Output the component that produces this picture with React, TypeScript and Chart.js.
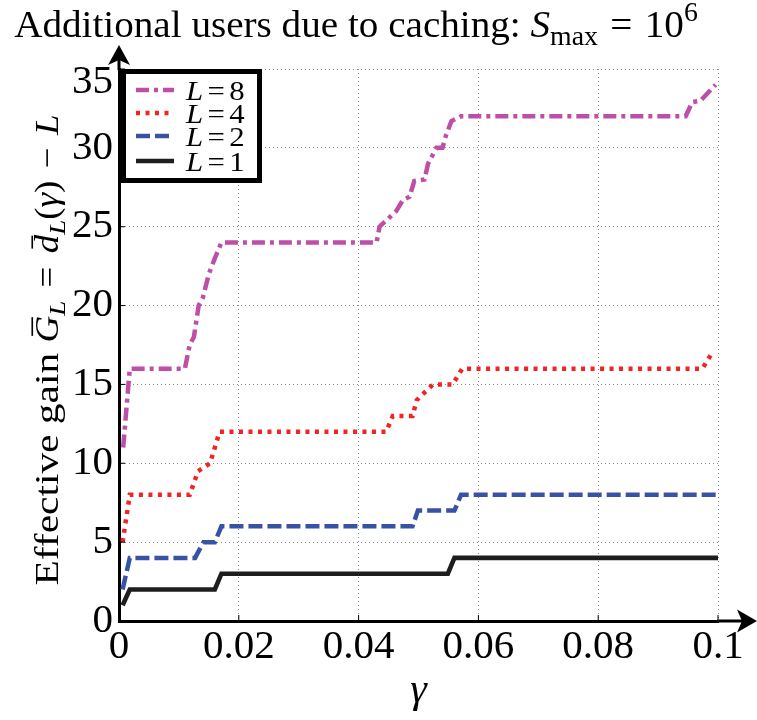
import React, { useEffect, useRef } from "react";
import { Chart, registerables } from "chart.js";

Chart.register(...registerables);

// ---------------- data ----------------
const xTickValues = [0, 0.02, 0.04, 0.06, 0.08, 0.1];
const xTickLabels = ["0", "0.02", "0.04", "0.06", "0.08", "0.1"];
const yTickValues = [0, 5, 10, 15, 20, 25, 30, 35];
const yTickLabels = ["0", "5", "10", "15", "20", "25", "30", "35"];

const seriesNames = ["8", "4", "2", "1"];

// L = 8
const gammaL8 = [0.0007, 0.0018, 0.011, 0.0118, 0.0125, 0.0133, 0.014, 0.015, 0.016, 0.0171, 0.043, 0.0435, 0.0449, 0.0463, 0.0474, 0.0485, 0.0493, 0.051, 0.0516, 0.053, 0.054, 0.0546, 0.0555, 0.0571, 0.0946, 0.0957, 0.0971, 0.0996];
const gainL8 = [11, 16, 16, 17.5, 18, 20, 20.5, 22, 23, 24, 24, 25, 25.5, 26, 26.7, 26.9, 27.9, 28, 29, 30, 30, 30.8, 31.7, 32, 32, 32.9, 33, 34];

// L = 4
const gammaL4 = [0.0006, 0.0018, 0.0118, 0.0132, 0.0152, 0.0168, 0.0446, 0.0457, 0.049, 0.0497, 0.0524, 0.0557, 0.0573, 0.0974, 0.099];
const gainL4 = [5, 8, 8, 9.5, 10, 12, 12, 13, 13, 14, 15, 15, 16, 16, 17];

// L = 2
const gammaL2 = [0.0006, 0.0018, 0.0127, 0.0141, 0.016, 0.0171, 0.049, 0.0499, 0.056, 0.0571, 0.1];
const gainL2 = [2, 4, 4, 5, 5, 6, 6, 7, 7, 8, 8];

// L = 1
const gammaL1 = [0.0006, 0.0018, 0.016, 0.0171, 0.0549, 0.056, 0.1];
const gainL1 = [1, 2, 2, 3, 3, 4, 4];

// ---------------- styles ----------------
const SERIF = '"Liberation Serif", "Times New Roman", "DejaVu Serif", serif';
const colors = ["#BD4FA6", "#F42222", "#3853A6", "#1E1E1E"];
const dashes = [[13, 5, 4, 5], [4, 5.5], [14, 5], []];
const widths = [4.5, 4.5, 4.5, 4.6];

type Seg = { t: string; italic?: boolean; scale?: number; dy?: number; bar?: boolean; gap?: number; sx?: number };

function drawRich(
  ctx: CanvasRenderingContext2D,
  segs: Seg[],
  x: number,
  y: number,
  size: number,
  align: "center" | "left",
  stretch = 1
) {
  const fontFor = (s: Seg) => `${s.italic ? "italic " : ""}${Math.round(size * (s.scale || 1))}px ${SERIF}`;
  const ws: number[] = [];
  let total = 0;
  for (const s of segs) {
    ctx.font = fontFor(s);
    const w = ctx.measureText(s.t).width * (s.sx || 1) + (s.gap || 0);
    ws.push(w);
    total += w;
  }
  const startX = align === "center" ? x - (total * stretch) / 2 : x;
  ctx.save();
  ctx.translate(startX, y);
  ctx.scale(stretch, 1);
  ctx.textAlign = "left";
  ctx.textBaseline = "alphabetic";
  let cx = 0;
  segs.forEach((s, i) => {
    ctx.font = fontFor(s);
    const g = (s.gap || 0) / 2;
    const tw = ws[i] - (s.gap || 0);
    ctx.save();
    ctx.translate(cx + g, (s.dy || 0) * size);
    ctx.scale(s.sx || 1, 1);
    ctx.fillText(s.t, 0, 0);
    ctx.restore();
    if (s.bar) {
      const by = -size * 0.78;
      ctx.save();
      ctx.lineWidth = Math.max(1.2, size * 0.05);
      ctx.beginPath();
      ctx.moveTo(cx + g + tw * 0.25, by);
      ctx.lineTo(cx + g + tw * 0.95, by);
      ctx.stroke();
      ctx.restore();
    }
    cx += ws[i];
  });
  ctx.restore();
}

const decorPlugin = {
  id: "decor",
  afterDraw(chart: any) {
    const ctx: CanvasRenderingContext2D = chart.ctx;
    const { left, right, top, bottom } = chart.chartArea;
    ctx.save();
    ctx.fillStyle = "#000";
    ctx.strokeStyle = "#000";

    // axis extensions and arrows
    ctx.lineWidth = 3;
    ctx.beginPath();
    ctx.moveTo(left, top + 1);
    ctx.lineTo(left, 58);
    ctx.moveTo(right - 1, bottom);
    ctx.lineTo(744, bottom);
    ctx.stroke();
    ctx.beginPath();
    ctx.moveTo(left, 45);
    ctx.lineTo(left - 11, 65);
    ctx.lineTo(left, 60);
    ctx.lineTo(left + 11, 65);
    ctx.closePath();
    ctx.fill();
    ctx.beginPath();
    ctx.moveTo(757, bottom);
    ctx.lineTo(737, bottom - 11.5);
    ctx.lineTo(742, bottom);
    ctx.lineTo(737, bottom + 11.5);
    ctx.closePath();
    ctx.fill();

    // small inner ticks
    ctx.lineWidth = 1;
    const xs = chart.scales.x;
    const ys = chart.scales.y;
    ctx.beginPath();
    for (const v of xTickValues) {
      const px = xs.getPixelForValue(v);
      ctx.moveTo(px, bottom);
      ctx.lineTo(px, bottom - 6);
    }
    for (const v of yTickValues) {
      const py = ys.getPixelForValue(v);
      ctx.moveTo(left, py);
      ctx.lineTo(left + 6, py);
    }
    ctx.stroke();

    // title
    drawRich(
      ctx,
      [
        { t: "Additional users due to caching: " },
        { t: "S", italic: true },
        { t: "max", scale: 0.72, dy: 0.2 },
        { t: "=", gap: 24 },
        { t: "10" },
        { t: "6", scale: 0.72, dy: -0.42 },
      ],
      356,
      37,
      38,
      "center",
      1.03
    );

    // x axis label
    drawRich(ctx, [{ t: "γ", italic: true }], (left + right) / 2, 702, 42, "center");

    // y axis label (rotated)
    ctx.save();
    ctx.translate(48, 350);
    ctx.rotate(-Math.PI / 2);
    drawRich(
      ctx,
      [
        { t: "Effective gain ", sx: 1.12 },
        { t: "G", italic: true, bar: true },
        { t: "L", italic: true, scale: 0.72, dy: 0.2 },
        { t: "=", gap: 24 },
        { t: "d", italic: true, bar: true },
        { t: "L", italic: true, scale: 0.72, dy: 0.2 },
        { t: "(" },
        { t: "γ", italic: true },
        { t: ")" },
        { t: "−", gap: 22 },
        { t: "L", italic: true },
      ],
      0,
      10,
      33,
      "center",
      1.12
    );
    ctx.restore();

    // legend box
    const bx = 123.5, byy = 71.5, bw = 136, bh = 109;
    ctx.fillStyle = "#fff";
    ctx.fillRect(bx, byy, bw, bh);
    ctx.lineWidth = 5;
    ctx.strokeStyle = "#000";
    ctx.strokeRect(bx, byy, bw, bh);
    const rows = [90, 113, 136, 161];
    chart.data.datasets.forEach((ds: any, i: number) => {
      const ry = rows[i];
      ctx.save();
      ctx.strokeStyle = ds.borderColor;
      ctx.lineWidth = ds.borderWidth;
      ctx.setLineDash(ds.borderDash || []);
      ctx.beginPath();
      ctx.moveTo(136, ry);
      ctx.lineTo(174, ry);
      ctx.stroke();
      ctx.restore();
      ctx.fillStyle = "#000";
      drawRich(
        ctx,
        [{ t: "L", italic: true }, { t: "=", gap: 8 }, { t: seriesNames[i] }],
        186,
        ry + 10,
        28,
        "left",
        1.1
      );
    });
    ctx.restore();
  },
};

function toPoints(xs: number[], ys: number[]) {
  return xs.map((x, i) => ({ x, y: ys[i] }));
}

export default function App() {
  const ref = useRef<HTMLCanvasElement | null>(null);
  useEffect(() => {
    let chart: any = null;
    let cancelled = false;
    const build = () => {
      if (cancelled || !ref.current) return;
      const seriesX = [gammaL8, gammaL4, gammaL2, gammaL1];
      const seriesY = [gainL8, gainL4, gainL2, gainL1];
      const lastY = yTickValues.length - 1;
      chart = new Chart(ref.current, {
        type: "line",
        data: {
          datasets: seriesNames.map((n, i) => ({
            label: "L=" + n,
            data: toPoints(seriesX[i], seriesY[i]),
            borderColor: colors[i],
            backgroundColor: colors[i],
            borderWidth: widths[i],
            borderDash: dashes[i],
            borderCapStyle: "butt",
            borderJoinStyle: "miter",
            pointRadius: 0,
            tension: 0,
            fill: false,
          })),
        },
        options: {
          responsive: false,
          animation: false,
          devicePixelRatio: 1,
          layout: { padding: { left: 0, top: 69, right: 39, bottom: 0 } },
          plugins: { legend: { display: false }, title: { display: false }, tooltip: { enabled: false } },
          scales: {
            x: {
              type: "linear",
              min: 0,
              max: 0.1,
              afterBuildTicks: (s: any) => {
                s.ticks = xTickValues.map((v) => ({ value: v }));
              },
              afterFit: (s: any) => {
                s.height = 99;
              },
              ticks: {
                autoSkip: false,
                maxRotation: 0,
                padding: 2,
                color: "#000",
                font: { family: SERIF, size: 41 },
                callback: (_v: any, i: number) => xTickLabels[i],
              },
              grid: { color: "#8a8a8a", lineWidth: 1, drawTicks: false },
              border: { display: true, color: "#000", width: 3, dash: [1, 3] },
            },
            y: {
              type: "linear",
              min: 0,
              max: 35,
              afterBuildTicks: (s: any) => {
                s.ticks = yTickValues.map((v) => ({ value: v }));
              },
              afterFit: (s: any) => {
                s.width = 119;
              },
              ticks: {
                autoSkip: false,
                padding: 6,
                color: "#000",
                font: (c: any) =>
                  c.index === lastY
                    ? { family: SERIF, size: 41, lineHeight: 0.64 }
                    : { family: SERIF, size: 41 },
                callback: (_v: any, i: number) => (i === lastY ? ["", yTickLabels[i]] : yTickLabels[i]),
              },
              grid: { color: "#8a8a8a", lineWidth: 1, drawTicks: false },
              border: { display: true, color: "#000", width: 3, dash: [1, 3] },
            },
          },
        },
        plugins: [decorPlugin],
      } as any);
    };
    const fonts: any = (document as any).fonts;
    if (fonts && fonts.load) {
      Promise.all([
        fonts.load('40px "Liberation Serif"'),
        fonts.load('italic 40px "Liberation Serif"'),
      ])
        .catch(() => null)
        .then(() => build());
    } else {
      build();
    }
    return () => {
      cancelled = true;
      if (chart) chart.destroy();
    };
  }, []);
  return (
    <div style={{ position: "absolute", left: 0, top: 0, width: 757, height: 720, background: "#fff" }}>
      <canvas ref={ref} width={757} height={720} style={{ width: 757, height: 720, display: "block" }} />
    </div>
  );
}
